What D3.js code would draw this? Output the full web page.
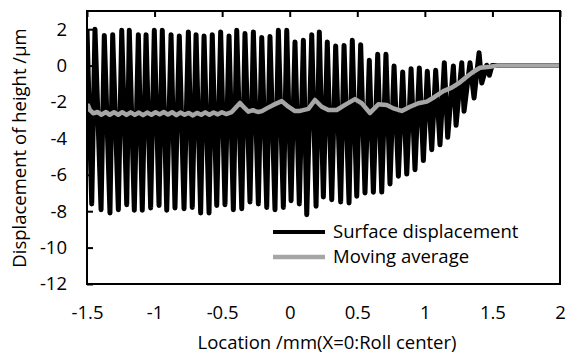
<!DOCTYPE html>
<html>
<head>
<meta charset="utf-8">
<script src="https://cdn.jsdelivr.net/npm/d3@7"></script>
<style>
  body { margin: 0; background: #fff; }
  text { font-family: "Open Sans", Lato, sans-serif; fill: #000; }
</style>
</head>
<body>
<svg id="chart" width="575" height="353"></svg>
<script>
// surface displacement: alternating crest / valley points (mm, µm)
const dispX = [-1.500, -1.465, -1.441, -1.396, -1.372, -1.330, -1.310, -1.268, -1.243, -1.206,
  -1.187, -1.150, -1.120, -1.091, -1.063, -1.029, -1.002, -0.967, -0.943, -0.910,
  -0.878, -0.849, -0.817, -0.782, -0.750, -0.721, -0.693, -0.659, -0.634, -0.597,
  -0.573, -0.540, -0.511, -0.479, -0.449, -0.417, -0.392, -0.355, -0.331, -0.294,
  -0.269, -0.232, -0.207, -0.170, -0.146, -0.109, -0.084, -0.047, -0.022, 0.010,
  0.039, 0.071, 0.101, 0.126, 0.163, 0.195, 0.219, 0.249, 0.278, 0.311,
  0.340, 0.377, 0.402, 0.439, 0.463, 0.496, 0.525, 0.557, 0.589, 0.619,
  0.651, 0.681, 0.712, 0.742, 0.772, 0.804, 0.836, 0.866, 0.898, 0.927,
  0.959, 0.989, 1.018, 1.051, 1.080, 1.112, 1.144, 1.169, 1.211, 1.231,
  1.273, 1.290, 1.334, 1.364, 1.401, 1.421, 1.458, 1.477, 1.497, 2.000];
const dispY = [2.00, -7.60, 2.00, -7.92, 1.66, -8.10, 1.70, -7.92, 1.94, -7.64,
  1.94, -7.95, 1.70, -7.95, 1.70, -7.82, 1.94, -7.68, 1.94, -7.95,
  1.70, -7.82, 1.63, -7.86, 1.85, -7.79, 1.70, -8.10, 1.63, -8.10,
  1.70, -7.68, 1.85, -7.64, 1.63, -7.92, 1.94, -7.86, 1.76, -7.49,
  1.85, -7.60, 1.55, -7.79, 1.60, -7.92, 1.94, -7.79, 1.94, -7.42,
  1.30, -7.60, 1.39, -8.19, 1.70, -7.73, 1.85, -7.22, 1.30, -7.37,
  1.08, -7.49, 1.11, -7.55, 1.39, -7.18, 1.15, -7.00, 0.29, -6.96,
  0.62, -6.95, 0.62, -6.50, -0.02, -6.08, -0.35, -5.96, -0.17, -5.72,
  -0.13, -5.22, -0.31, -4.62, -0.26, -4.35, 0.16, -3.94, -0.02, -3.28,
  0.16, -2.51, 0.16, -1.78, 0.71, -0.96, 0.02, -0.53, 0.00, 0.00];

// moving average
const avgX = [-1.500, -1.478, -1.453, -1.423, -1.392, -1.362, -1.331, -1.300, -1.269, -1.239,
  -1.208, -1.177, -1.146, -1.116, -1.085, -1.055, -1.023, -0.993, -0.962, -0.932,
  -0.901, -0.870, -0.839, -0.809, -0.778, -0.747, -0.716, -0.686, -0.655, -0.625,
  -0.594, -0.563, -0.532, -0.502, -0.471, -0.429, -0.368, -0.338, -0.306, -0.272,
  -0.235, -0.205, -0.170, -0.121, -0.059, -0.010, 0.039, 0.076, 0.138, 0.187,
  0.237, 0.286, 0.348, 0.409, 0.483, 0.533, 0.594, 0.656, 0.718, 0.767,
  0.829, 0.890, 0.952, 1.014, 1.075, 1.137, 1.199, 1.260, 1.310, 1.359,
  1.408, 1.482, 1.532, 2.000];
const avgY = [-2.05, -2.45, -2.62, -2.55, -2.70, -2.55, -2.70, -2.56, -2.70, -2.56,
  -2.71, -2.57, -2.71, -2.58, -2.72, -2.58, -2.70, -2.56, -2.68, -2.55,
  -2.69, -2.56, -2.72, -2.58, -2.70, -2.60, -2.74, -2.60, -2.70, -2.57,
  -2.70, -2.58, -2.68, -2.56, -2.66, -2.55, -2.05, -2.30, -2.53, -2.45,
  -2.55, -2.50, -2.35, -2.16, -1.95, -2.26, -2.50, -2.49, -2.38, -1.89,
  -2.26, -2.44, -2.44, -2.16, -1.84, -2.07, -2.60, -2.13, -2.16, -2.35,
  -2.49, -2.26, -2.07, -1.98, -1.71, -1.40, -1.21, -0.92, -0.61, -0.34,
  -0.12, -0.06, 0.00, 0.00];

const xTicks = [-1.5, -1, -0.5, 0, 0.5, 1, 1.5, 2];
const yTicks = [-12, -10, -8, -6, -4, -2, 0, 2];
const seriesNames = ["Surface displacement", "Moving average"];
const xTitle = "Location /mm(X=0:Roll center)";
const yTitle = "Displacement of height /\u03bcm";

const mLeft = 87, mRight = 560, mTop = 11, mBottom = 284;
const fontSize = "18.5px";
const svg = d3.select("#chart");

const x = d3.scaleLinear().domain([-1.5, 2]).range([mLeft, mRight]);
const y = d3.scaleLinear().domain([-12, 3]).range([mBottom, mTop]);

const line = d3.line()
  .x(d => x(d[0]))
  .y(d => y(d[1]));

svg.append("defs").append("clipPath").attr("id", "plotclip")
  .append("rect")
  .attr("x", mLeft).attr("y", mTop)
  .attr("width", mRight - mLeft).attr("height", mBottom - mTop);

const plot = svg.append("g").attr("clip-path", "url(#plotclip)");

plot.append("path")
  .datum(dispX.map((v, i) => [v, dispY[i]]))
  .attr("d", line)
  .attr("fill", "none")
  .attr("stroke", "#000")
  .attr("stroke-width", 5)
  .attr("stroke-linejoin", "round");

plot.append("path")
  .datum(avgX.map((v, i) => [v, avgY[i]]))
  .attr("d", line)
  .attr("fill", "none")
  .attr("stroke", "#a6a6a6")
  .attr("stroke-width", 4.5)
  .attr("stroke-linejoin", "round");

// frame
svg.append("rect")
  .attr("x", mLeft).attr("y", mTop)
  .attr("width", mRight - mLeft).attr("height", mBottom - mTop)
  .attr("fill", "none")
  .attr("stroke", "#000")
  .attr("stroke-width", 2);

const fmt = d => String(d);

// y axis, ticks pointing in
const yAxis = svg.append("g")
  .attr("transform", `translate(${mLeft},0)`)
  .call(d3.axisLeft(y).tickValues(yTicks).tickFormat(fmt)
    .tickSizeInner(-6).tickSizeOuter(0).tickPadding(20));

// x ticks along the top edge, labels under the bottom edge
const xTop = svg.append("g")
  .attr("transform", `translate(0,${mTop})`)
  .call(d3.axisTop(x).tickValues(xTicks).tickSizeInner(-6).tickSizeOuter(0).tickFormat(""));

const xBottom = svg.append("g")
  .attr("transform", `translate(0,${mBottom})`)
  .call(d3.axisBottom(x).tickValues(xTicks).tickFormat(fmt).tickSize(0).tickPadding(22));

[yAxis, xTop, xBottom].forEach(g => {
  g.select(".domain").remove();
  g.selectAll("line").attr("stroke", "#000").attr("stroke-width", 2);
  g.selectAll("text").style("font-size", fontSize).attr("fill", "#000")
    .style("font-family", '"Open Sans", Lato, sans-serif');
});
xBottom.selectAll("text").attr("dy", "0.71em");

svg.append("text")
  .attr("x", 327).attr("y", 349)
  .attr("text-anchor", "middle")
  .style("font-size", fontSize)
  .text(xTitle);

svg.append("text")
  .attr("transform", "translate(26,148) rotate(-90)")
  .attr("text-anchor", "middle")
  .style("font-size", fontSize)
  .text(yTitle);

// legend
const legendColors = ["#000", "#a6a6a6"];
const legend = svg.append("g");
seriesNames.forEach((name, i) => {
  const ly = 232 + i * 25;
  legend.append("line")
    .attr("x1", 273).attr("x2", 325)
    .attr("y1", ly).attr("y2", ly)
    .attr("stroke", legendColors[i])
    .attr("stroke-width", i === 0 ? 4 : 4.5);
  legend.append("text")
    .attr("x", 333).attr("y", ly)
    .attr("dy", "0.35em")
    .style("font-size", fontSize)
    .text(name);
});
</script>
</body>
</html>
